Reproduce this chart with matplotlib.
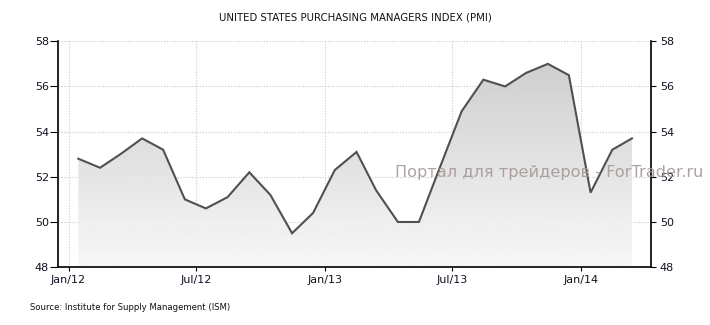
import numpy as np
import pandas as pd
import matplotlib
matplotlib.use('Agg')
import matplotlib.pyplot as plt
import matplotlib.dates as mdates
from matplotlib.patches import Polygon

# ISM PMI, monthly (Jan 2012 - Mar 2014), plotted mid-month
months = pd.date_range('2012-01-01', periods=27, freq='MS') + pd.Timedelta(days=14)
pmi = [52.8, 52.4, 53.0, 53.7, 53.2, 51.0, 50.6, 51.1, 52.2, 51.2, 49.5, 50.4,
       52.3, 53.1, 51.4, 50.0, 50.0, 52.5, 54.9, 56.3, 56.0, 56.6, 57.0, 56.5,
       51.3, 53.2, 53.7]

title = 'UNITED STATES PURCHASING MANAGERS INDEX (PMI)'
source = 'Source: Institute for Supply Management (ISM)'
watermark = 'Портал для трейдеров - ForTrader.ru'

fig = plt.figure(figsize=(7.1, 3.25), dpi=100)
ax = fig.add_axes([0.0817, 0.178, 0.835, 0.695])

x = mdates.date2num(months)
y = np.array(pmi)

ax.set_xlim(mdates.date2num(pd.Timestamp('2011-12-17')),
            mdates.date2num(pd.Timestamp('2014-04-11')))
ax.set_ylim(48, 58)

# gradient fill under the line
ymin = 48
grad = np.linspace(0.97, 0.81, 256).reshape(-1, 1)
img = ax.imshow(grad, cmap='gray', vmin=0, vmax=1, aspect='auto', origin='lower',
                extent=[x[0], x[-1], ymin, y.max()], zorder=1)
verts = np.vstack([[x[0], ymin], np.column_stack([x, y]), [x[-1], ymin]])
clip = Polygon(verts, closed=True, facecolor='none', edgecolor='none')
ax.add_patch(clip)
img.set_clip_path(clip)

ax.plot(x, y, color='#505050', lw=1.5, zorder=3, solid_joinstyle='miter')

ax.xaxis.set_major_locator(mdates.MonthLocator(bymonth=[1, 7]))
ax.xaxis.set_major_formatter(mdates.DateFormatter('%b/%y'))
ax.set_yticks([48, 50, 52, 54, 56, 58])

ax.grid(True, color='#c8c8c8', linestyle=(0, (1, 1.5)), lw=0.8, zorder=0)
ax.set_axisbelow(True)

ax.spines['top'].set_visible(False)
for s in ['left', 'right', 'bottom']:
    ax.spines[s].set_color('black')
    ax.spines[s].set_linewidth(1.2)

ax.tick_params(axis='y', left=True, right=True, labelleft=True, labelright=True,
               direction='out', labelsize=8, colors='black', labelcolor='#111122')
ax.yaxis.set_tick_params(which='major', length=6, pad=0.5)
for t in ax.yaxis.get_major_ticks():
    t.tick2line.set_markersize(3.6)
ax.tick_params(axis='x', direction='out', length=3, pad=3, labelsize=8,
               labelcolor='#111122')

fig.text(0.5, 0.945, title, ha='center', va='center', fontsize=7.3, color='#111111')
fig.text(0.042, 0.055, source, ha='left', va='center', fontsize=6.1, color='#111111')
fig.text(0.556, 0.468, watermark, ha='left', va='center', fontsize=11.6,
         color='#a89898', alpha=0.9, zorder=5)

fig.savefig('out.png', dpi=100)
